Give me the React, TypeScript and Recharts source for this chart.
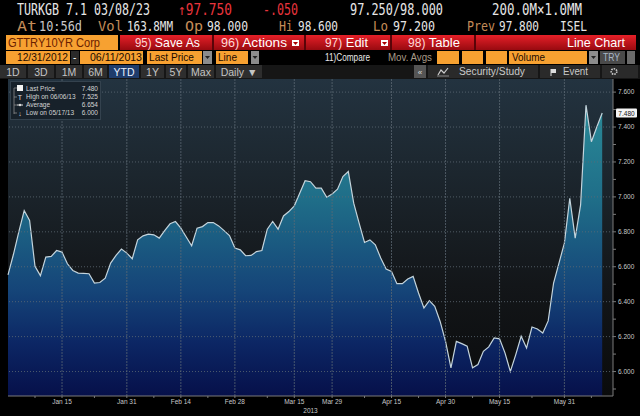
import React from 'react';
import { AreaChart, Area, XAxis, YAxis, CartesianGrid, ReferenceLine } from 'recharts';

// GTTRY10YR daily yield, 12/31/2012 .. 06/11/2013 (one value per trading day)
const yieldValues = [
  6.554, 6.67, 6.8, 6.922, 6.865, 6.602, 6.549, 6.655, 6.659, 6.693,
  6.684, 6.617, 6.579, 6.564, 6.562, 6.56, 6.507, 6.51, 6.535, 6.621,
  6.665, 6.701, 6.678, 6.646, 6.754, 6.777, 6.787, 6.783, 6.764, 6.807,
  6.846, 6.859, 6.821, 6.77, 6.72, 6.821, 6.83, 6.853, 6.853, 6.834,
  6.807, 6.779, 6.707, 6.697, 6.663, 6.665, 6.687, 6.693, 6.815, 6.859,
  6.815, 6.891, 6.916, 6.949, 7.021, 7.093, 7.087, 7.05, 7.05, 6.998,
  7.017, 7.044, 7.116, 7.145, 6.964, 6.85, 6.739, 6.754, 6.726, 6.65,
  6.587, 6.573, 6.503, 6.503, 6.53, 6.545, 6.45, 6.364, 6.406, 6.373,
  6.287, 6.173, 6.021, 6.173, 6.16, 6.145, 6.021, 6.04, 6.116, 6.141,
  6.192, 6.187, 6.107, 6.0, 6.097, 6.202, 6.135, 6.255, 6.244, 6.221,
  6.29, 6.507, 6.621, 6.735, 6.992, 6.764, 6.954, 7.525, 7.316, 7.4,
  7.48,
];

const majorTickDays = [10, 22, 32, 42, 53, 60, 71, 81, 91, 103];
const majorTickLabels = ['Jan 15', 'Jan 31', 'Feb 14', 'Feb 28', 'Mar 15', 'Mar 29', 'Apr 15', 'Apr 30', 'May 15', 'May 31'];
const minorTickDays = [5, 16, 27, 37, 48, 66, 76, 86, 97, 108];

const yMajorTicks = [6.0, 6.2, 6.4, 6.6, 6.8, 7.0, 7.2, 7.4, 7.6];
const yMinorTicks = [5.9, 6.1, 6.3, 6.5, 6.7, 6.9, 7.1, 7.3, 7.5];

const lastPrice = 7.48;

const MONO = '"DejaVu Sans Mono", monospace';
const SANS = '"Liberation Sans", Arial, sans-serif';
const ORANGE = '#f7a131';
const TAN = '#c48c58';

const data = yieldValues.map((v, i) => ({ day: i, value: v }));
const xTicks = [...majorTickDays, ...minorTickDays].sort((a, b) => a - b);
const yTicks = [...yMajorTicks, ...yMinorTicks].sort((a, b) => a - b);

const T = ({ x, y, len, size = 13, fill = '#e6e6e6', family = MONO, anchor, children }: any) => (
  <text
    x={x}
    y={y}
    fontSize={size}
    fill={fill}
    fontFamily={family}
    textAnchor={anchor}
    textLength={len}
    lengthAdjust={len ? 'spacingAndGlyphs' : undefined}
  >
    {children}
  </text>
);

const Drop = ({ x, y, fill = '#fff' }: any) => (
  <polygon points={`${x},${y} ${x + 5},${y} ${x + 2.5},${y + 3}`} fill={fill} />
);

// red toolbar buttons: number prefix + label
const MenuItem = ({ x, len, num, label }: any) => (
  <text x={x} y={47} fontFamily={SANS} fontSize={13} fill="#fff" textLength={len} lengthAdjust="spacingAndGlyphs">
    <tspan fill="#ffd8d8" fontSize={12}>{num}</tspan>
    <tspan> {label}</tspan>
  </text>
);

const buttons: [number, number, string, boolean][] = [
  [0, 26, '1D', false],
  [28, 54, '3D', false],
  [56, 82, '1M', false],
  [84, 107, '6M', false],
  [109, 139, 'YTD', true],
  [141, 164, '1Y', false],
  [166, 186, '5Y', false],
  [188, 214, 'Max', false],
  [216, 262, 'Daily \u25BC', false],
];

function Header() {
  return (
    <svg width={640} height={79} style={{ position: 'absolute', left: 0, top: 0 }}>
      <defs>
        <linearGradient id="redBar" x1="0" y1="0" x2="0" y2="1">
          <stop offset="0" stopColor="#e62028" />
          <stop offset="1" stopColor="#980a10" />
        </linearGradient>
      </defs>
      {/* row 1 */}
      <T x={17} y={15} len={133} size={15}>TURKGB 7.1 03/08/23</T>
      <T x={178} y={15} len={54} size={15} fill="#e8343c">{'\u219197.750'}</T>
      <T x={263} y={15} len={35} size={15} fill="#e8343c">-.050</T>
      <T x={350} y={15} len={93} size={15}>97.250/98.000</T>
      <T x={492} y={15} len={90} size={15}>{'200.0M\u00D71.0MM'}</T>
      {/* row 2 */}
      <T x={17} y={31} len={20} size={14} fill={TAN}>At</T>
      <T x={39} y={31} len={43} size={14} fill="#c8c8c8">10:56d</T>
      <T x={98} y={31} len={25} size={14} fill={TAN}>Vol</T>
      <T x={127} y={31} len={46} size={14}>163.8MM</T>
      <T x={185} y={31} len={18} size={14} fill={TAN}>Op</T>
      <T x={207} y={31} len={41} size={14}>98.000</T>
      <T x={279} y={31} len={14} size={14} fill={TAN}>Hi</T>
      <T x={298} y={31} len={40} size={14}>98.600</T>
      <T x={373} y={31} len={15} size={14} fill={TAN}>Lo</T>
      <T x={393} y={31} len={42} size={14}>97.200</T>
      <T x={467} y={31} len={28} size={14} fill={TAN}>Prev</T>
      <T x={499} y={31} len={40} size={14}>97.800</T>
      <T x={560} y={31} len={27} size={14}>ISEL</T>
      {/* row 3 */}
      <rect x={6} y={35} width={112} height={15} fill={ORANGE} />
      <T x={8} y={47} len={92} size={13} family={SANS} fill="#6a2000">GTTRY10YR Corp</T>
      <rect x={120} y={35} width={516} height={15} fill="url(#redBar)" />
      {[212, 304, 390, 474].map((sx) => (
        <rect key={sx} x={sx} y={35} width={2} height={15} fill="#5a0408" />
      ))}
      <MenuItem x={135} len={65} num="95)" label="Save As" />
      <MenuItem x={221} len={66} num="96)" label="Actions" />
      <rect x={292} y={40} width={7} height={6} fill="#fff" />
      <Drop x={293} y={42} fill="#a00" />
      <MenuItem x={325} len={43} num="97)" label="Edit" />
      <rect x={381} y={40} width={7} height={6} fill="#fff" />
      <Drop x={382} y={42} fill="#a00" />
      <MenuItem x={408} len={52} num="98)" label="Table" />
      <T x={567} y={47} len={58} size={13} family={SANS} fill="#fff">Line Chart</T>
      {/* row 4 */}
      <rect x={6} y={51} width={64} height={13} fill={ORANGE} />
      <T x={17} y={61} len={51} size={11} family={SANS} fill="#1a0a00">12/31/2012</T>
      <rect x={71} y={51} width={8} height={13} fill="#2a2a2a" />
      <T x={73} y={61} size={10} family={SANS} fill="#fff">-</T>
      <rect x={80} y={51} width={63} height={13} fill={ORANGE} />
      <T x={90} y={61} len={52} size={11} family={SANS} fill="#1a0a00">06/11/2013</T>
      <rect x={147} y={51} width={55} height={13} fill={ORANGE} />
      <T x={149} y={61} len={45} size={11} family={SANS} fill="#1a0a00">Last Price</T>
      <rect x={203} y={51} width={9} height={13} fill="#8c8c8c" />
      <Drop x={205} y={56} fill="#222" />
      <rect x={216} y={51} width={32} height={13} fill={ORANGE} />
      <T x={218} y={61} len={19} size={11} family={SANS} fill="#1a0a00">Line</T>
      <rect x={251} y={51} width={8} height={13} fill="#8c8c8c" />
      <Drop x={252.5} y={56} fill="#222" />
      <T x={325} y={61} len={45} size={10} family={SANS} fill="#e8e8e8">11)Compare</T>
      <T x={388} y={61} len={44} size={10} family={SANS} fill="#a89a88">Mov. Avgs</T>
      <rect x={437} y={51} width={22} height={13} fill={ORANGE} />
      <rect x={462} y={51} width={21} height={13} fill={ORANGE} />
      <rect x={486} y={51} width={21} height={13} fill={ORANGE} />
      <rect x={509} y={51} width={78} height={13} fill={ORANGE} />
      <T x={512} y={61} len={33} size={11} family={SANS} fill="#1a0a00">Volume</T>
      <rect x={589} y={51} width={9} height={13} fill="#8c8c8c" />
      <Drop x={591} y={56} fill="#222" />
      <rect x={600} y={51} width={25} height={13} fill="#4a4a4a" />
      <T x={603} y={61} len={17} size={10} family={SANS} fill="#a8b8c8">TRY</T>
      <rect x={627} y={51} width={8} height={13} fill="#6a6a6a" />
      {/* row 5 */}
      <rect x={0} y={65} width={640} height={14} fill="#161616" />
      {buttons.map(([x0, x1, label, active]) => (
        <g key={label}>
          <rect x={x0} y={65} width={x1 - x0} height={13} fill={active ? '#1f3c6c' : '#2e2e2e'} />
          <T x={(x0 + x1) / 2} y={75.5} size={10.5} family={SANS} anchor="middle" fill={active ? '#e8f0ff' : '#c4c4c4'}>
            {label}
          </T>
        </g>
      ))}
      <rect x={414} y={65} width={12} height={13} fill="#555" />
      <T x={420} y={75} size={8} family={SANS} anchor="middle" fill="#ddd">{'\u00AB'}</T>
      <rect x={428} y={65} width={110} height={13} fill="#2a2a2a" />
      <polyline points="438,75 441,70 444,73 448,68" fill="none" stroke="#ccc" strokeWidth={1.2} />
      <line x1={437} y1={76} x2={449} y2={76} stroke="#888" />
      <T x={459} y={75} len={66} size={10} family={SANS} fill="#c8c8c8">Security/Study</T>
      <rect x={540} y={65} width={60} height={13} fill="#2a2a2a" />
      <rect x={551} y={69} width={5} height={4} fill="#ddd" />
      <line x1={551} y1={69} x2={551} y2={76} stroke="#ddd" />
      <T x={563} y={75} len={25} size={10} family={SANS} fill="#c8c8c8">Event</T>
      <rect x={602} y={65} width={36} height={13} fill="#2a2a2a" />
      <circle cx={614} cy={71.5} r={2.8} fill="none" stroke="#ccc" strokeWidth={1.6} strokeDasharray="1.5 1" />
    </svg>
  );
}

function LegendBox() {
  const rows = [
    { y: 91, label: 'Last Price', value: '7.480' },
    { y: 99, label: 'High on 06/06/13', value: '7.525' },
    { y: 107, label: 'Average', value: '6.654' },
    { y: 115, label: 'Low on 05/17/13', value: '6.000' },
  ];
  return (
    <svg width={110} height={45} viewBox="0 79 110 45" style={{ position: 'absolute', left: 0, top: 79 }}>
      <rect x={10.5} y={81.5} width={90} height={38} fill="#17212a" stroke="#34424e" />
      <line x1={14} y1={88} x2={14} y2={114} stroke="#8a8a8a" strokeWidth={0.8} />
      {[88, 97, 105, 113].map((ly) => (
        <line key={ly} x1={14} y1={ly} x2={17} y2={ly} stroke="#8a8a8a" strokeWidth={0.8} />
      ))}
      <rect x={17} y={85} width={6} height={6} fill="#f4f4f4" />
      <T x={20} y={100} size={7} family={SANS} anchor="middle" fill="#ddd">T</T>
      <line x1={17} y1={105} x2={23} y2={105} stroke="#ddd" />
      <circle cx={20} cy={105} r={1.2} fill="#ddd" />
      <T x={20} y={116} size={7} family={SANS} anchor="middle" fill="#ddd">{'\u2193'}</T>
      {rows.map((r) => (
        <g key={r.label}>
          <T x={26} y={r.y} size={6.5} family={SANS} fill="#d4d4d4">{r.label}</T>
          <T x={98} y={r.y} size={6.5} family={SANS} anchor="end" fill="#d4d4d4">{r.value}</T>
        </g>
      ))}
    </svg>
  );
}

const LastPriceTag = (props: any) => {
  const vb = props.viewBox || {};
  const x = vb.x + vb.width + 3;
  const y = vb.y;
  return (
    <g>
      <rect x={x} y={y - 4.5} width={21} height={9} rx={1} fill="#f4f4f4" />
      <text x={x + 10.5} y={y + 2.5} fontSize={6.5} fontFamily={SANS} textAnchor="middle" fill="#111">
        {lastPrice.toFixed(3)}
      </text>
    </g>
  );
};

export default function App() {
  return (
    <div
      style={{
        position: 'fixed',
        left: 0,
        top: 0,
        width: 640,
        height: 416,
        background: '#000',
        overflow: 'hidden',
      }}
    >
      <Header />
      <div style={{ position: 'absolute', left: 0, top: 79 }}>
        <AreaChart width={640} height={337} data={data} margin={{ top: 0, right: 0, left: 8, bottom: 0 }}>
          <defs>
            <linearGradient id="plotBg" x1="0" y1="0" x2="0" y2="1">
              <stop offset="0" stopColor="#233340" />
              <stop offset="0.3" stopColor="#1c262e" />
              <stop offset="0.65" stopColor="#131619" />
              <stop offset="1" stopColor="#0a0b0c" />
            </linearGradient>
            <linearGradient id="areaFill" x1="0" y1="0" x2="0" y2="1">
              <stop offset="0" stopColor="#2a8a98" />
              <stop offset="0.33" stopColor="#1f6d88" />
              <stop offset="0.64" stopColor="#154478" />
              <stop offset="0.82" stopColor="#0c2664" />
              <stop offset="1" stopColor="#06104a" />
            </linearGradient>
          </defs>
          <CartesianGrid horizontal={false} vertical={false} fill="url(#plotBg)" />
          <XAxis
            dataKey="day"
            type="number"
            domain={[0, 112]}
            ticks={xTicks}
            interval={0}
            tickFormatter={(d: number) => {
              const k = majorTickDays.indexOf(d);
              return k >= 0 ? majorTickLabels[k] : '';
            }}
            height={20}
            stroke="#7a7a7a"
            tickSize={2}
            tickMargin={1}
            tick={{ fill: '#c8c8c8', fontSize: 6.5, fontFamily: SANS }}
            label={{ value: '2013', position: 'insideBottom', offset: 3, fill: '#c8c8c8', fontSize: 6.5, fontFamily: SANS }}
          />
          <YAxis
            orientation="right"
            type="number"
            domain={[5.86, 7.675]}
            ticks={yTicks}
            interval={0}
            tickFormatter={(v: number) => (yMajorTicks.some((m) => Math.abs(m - v) < 1e-6) ? v.toFixed(3) : '')}
            width={27}
            stroke="#7a7a7a"
            tickSize={3}
            tickMargin={2}
            tick={{ fill: '#c8c8c8', fontSize: 6.5, fontFamily: SANS, textAnchor: 'start' }}
          />
          <Area
            type="linear"
            dataKey="value"
            stroke="#c4d4dc"
            strokeWidth={1.2}
            fill="url(#areaFill)"
            fillOpacity={1}
            dot={false}
            activeDot={false}
            isAnimationActive={false}
          />
          {yMajorTicks.map((v) => (
            <ReferenceLine key={'h' + v} y={v} stroke="#5e6a74" strokeOpacity={0.8} strokeDasharray="1 2" />
          ))}
          {majorTickDays.map((d) => (
            <ReferenceLine key={'v' + d} x={d} stroke="#5e6a74" strokeOpacity={0.75} strokeDasharray="2 1" />
          ))}
          <ReferenceLine y={lastPrice} stroke="none" label={<LastPriceTag />} />
        </AreaChart>
      </div>
      <LegendBox />
    </div>
  );
}
